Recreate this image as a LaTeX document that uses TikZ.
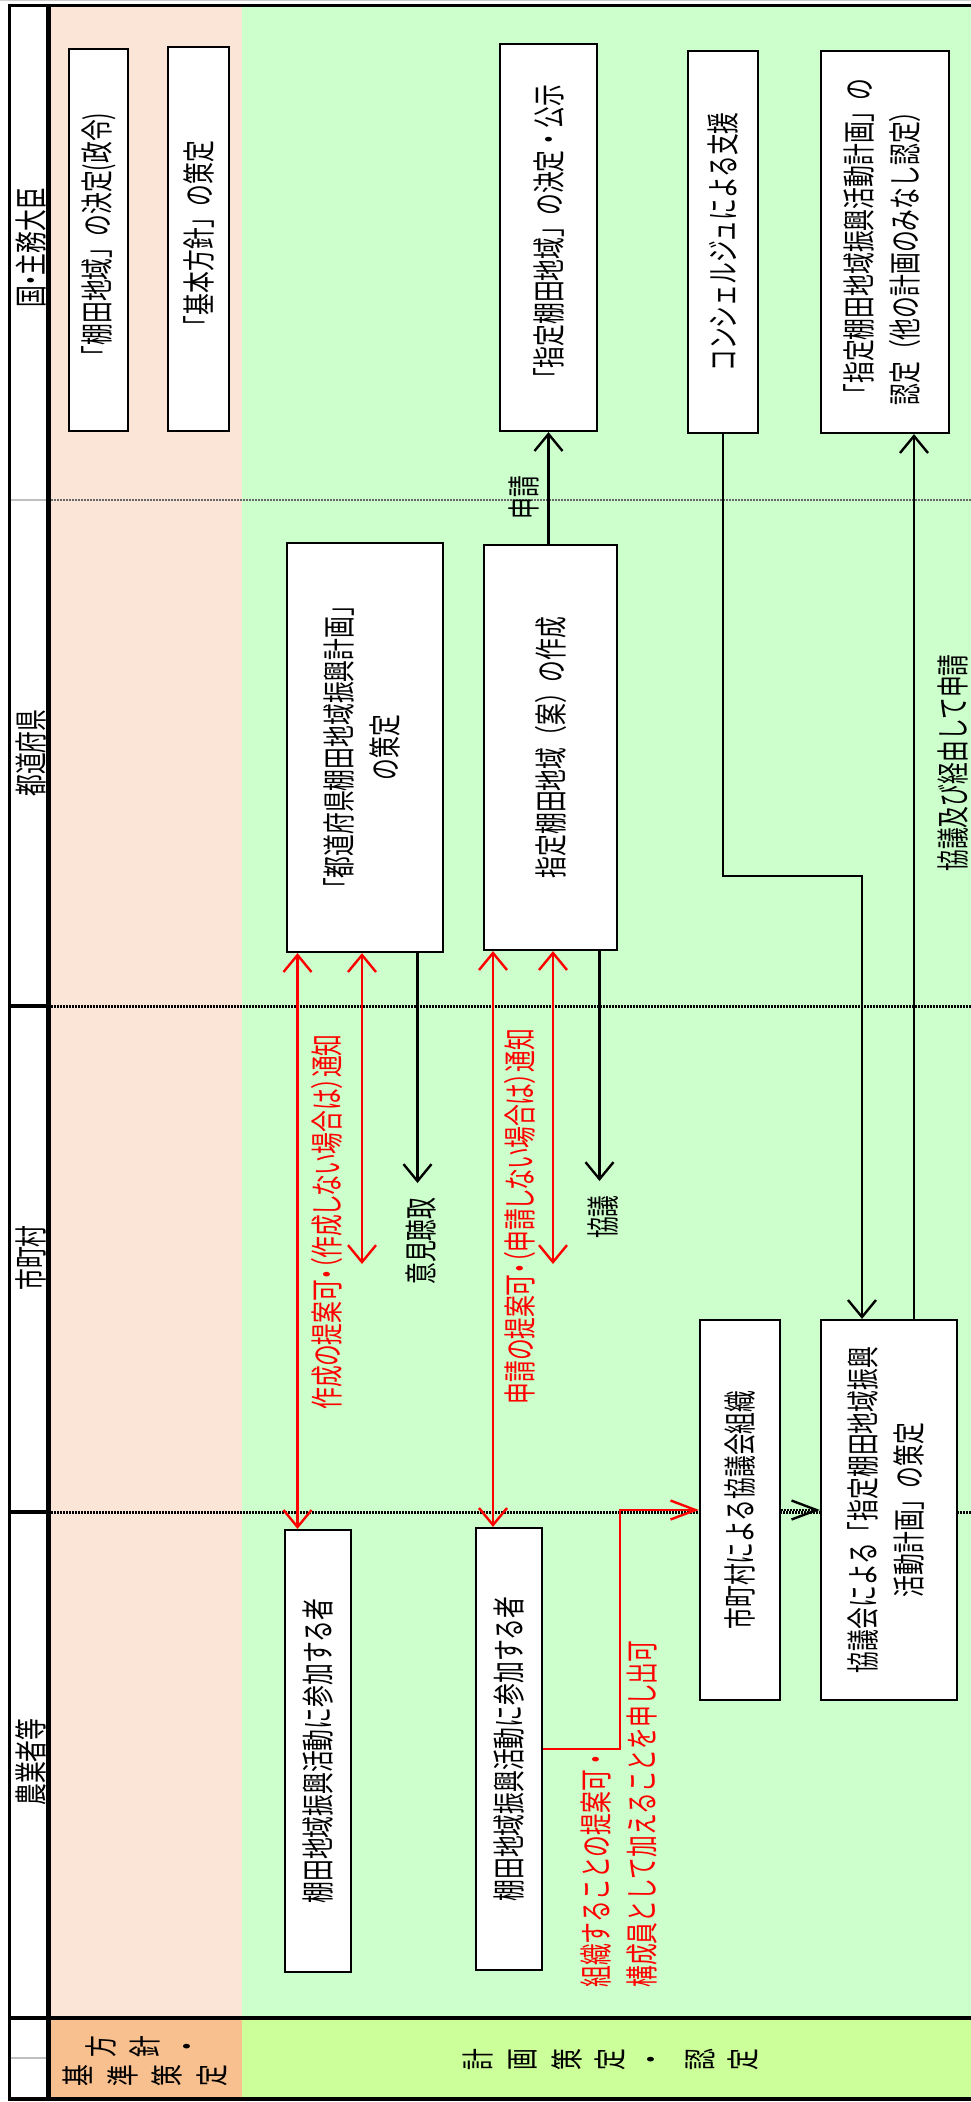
\documentclass[tikz,border=0pt]{standalone}
\usepackage{graphicx}
\usepackage{fontspec}
\setmainfont{Noto Sans CJK JP}[FakeStretch=0.66]
\usetikzlibrary{arrows.meta}
\newcommand{\vt}[1]{\rotatebox{90}{#1}}
\newcommand{\vtc}[1]{\rotatebox{90}{\begin{tabular}{@{}c@{}}#1\end{tabular}}}
\newcommand{\vtl}[1]{\rotatebox{90}{\begin{tabular}{@{}l@{}}#1\end{tabular}}}
\definecolor{peach}{HTML}{FBE5D6}
\definecolor{lgreen}{HTML}{CCFFCC}
\definecolor{orangec}{HTML}{F8BF8F}
\definecolor{ygreen}{HTML}{CCFF99}
\begin{document}
\begin{tikzpicture}[x=1pt,y=-1pt,
  font=\fontsize{33}{46}\selectfont,
  box/.style={draw=black, line width=2.2pt, fill=white, inner sep=0pt},
  lbl/.style={inner sep=0pt},
  pal/.style={font=\fontsize{33}{46}\selectfont\addfontfeature{RawFeature=+palt}},
  conn/.style={line width=2.4pt},
  va/.style={-{Straight Barb[length=17pt,width=28pt]}},
  vaa/.style={{Straight Barb[length=17pt,width=28pt]}-{Straight Barb[length=17pt,width=28pt]}},
  ha/.style={-{Straight Barb[length=25pt,width=19pt]}},
  sep/.style={line width=3pt, dash pattern=on 1.5pt off 1.5pt},
]
\useasboundingbox (0,0) rectangle (971,2102);
\clip (0,0) rectangle (971,2102);
% backgrounds
\fill[white] (0,0) rectangle (971,2102);
\fill[peach] (51,5) rectangle (241.5,2018);
\fill[lgreen] (241.5,5) rectangle (971,2018);
\fill[orangec] (51,2018) rectangle (241.5,2099);
\fill[ygreen] (241.5,2018) rectangle (971,2099);
% separators
\draw[line width=2pt, black!60, dash pattern=on 1.5pt off 1.5pt] (51,500) -- (971,500);
\draw[black!25, line width=2pt] (11,500) -- (46,500);
\draw[sep] (51,1006) -- (971,1006);
\draw[line width=3.5pt] (9,1006) -- (48,1006);
\draw[sep] (51,1512) -- (971,1512);
\draw[line width=3.5pt] (9,1512) -- (48,1512);
\draw[black!25, line width=2pt] (11,2058) -- (46,2058);
\draw[line width=4.5pt] (8,2018) -- (971,2018);
\draw[line width=4pt] (8,2099) -- (971,2099);
\draw[line width=3pt] (8,5.5) -- (971,5.5);
\draw[black!20, line width=1pt] (0,0.5) -- (971,0.5);
\draw[line width=3.5pt] (9.5,4) -- (9.5,2101);
\draw[line width=5pt] (48.5,4) -- (48.5,2101);
% headers
\node[lbl, pal] (h1) at (31,248) {\vt{国・主務大臣}};
\node[lbl] (h2) at (31,753) {\vt{都道府県}};
\node[lbl] (h3) at (31,1258) {\vt{市町村}};
\node[lbl] (h4) at (31,1762) {\vt{農業者等}};
% bottom strip characters
\foreach \c/\x/\y/\n in {方/101/2047/b1, 針/145/2047/b2, ・/191/2047/b3,
  基/78/2076/b4, 準/123/2076/b5, 策/167/2076/b6, 定/212/2076/b7,
  計/478/2060/c1, 画/523/2060/c2, 策/567/2060/c3, 定/610/2060/c4,
  ・/655/2060/c5, 認/700/2060/c6, 定/743/2060/c7}
  {\node[lbl] (\n) at (\x,\y) {\vt{\c}};}
% boxes
\node[box, minimum width=59pt, minimum height=382pt] (A) at (98.5,240) {\vt{「棚田地域」の決定(政令)}};
\node[box, minimum width=61pt, minimum height=384pt] (B) at (198.5,239) {\vt{「基本方針」の策定}};
\node[box, minimum width=97pt, minimum height=387pt] (C) at (548.5,237.5) {\vt{「指定棚田地域」の決定・公示}};
\node[box, minimum width=70pt, minimum height=382pt] (D) at (723,242) {\vt{コンシェルジュによる支援}};
\node[box, minimum width=128pt, minimum height=382pt] (E) at (885,242) {\vtl{「指定棚田地域振興活動計画」の\\認定（他の計画のみなし認定）}};
\node[box, minimum width=156pt, minimum height=409pt] (F) at (365,747.5) {\vtc{「都道府県棚田地域振興計画」\\の策定}};
\node[box, minimum width=133pt, minimum height=405pt] (G) at (550.5,747.5) {\vt{指定棚田地域（案）の作成}};
\node[box, minimum width=66pt, minimum height=442pt] (H) at (318,1751) {\vt{棚田地域振興活動に参加する者}};
\node[box, minimum width=66pt, minimum height=442pt] (I) at (509,1749) {\vt{棚田地域振興活動に参加する者}};
\node[box, minimum width=80pt, minimum height=380pt] (J) at (740,1510) {\vt{市町村による協議会組織}};
\node[box, minimum width=136pt, minimum height=380pt] (K) at (889,1510) {\vtc{協議会による「指定棚田地域振興\\活動計画」の策定}};
% coordinates
\coordinate (xr1) at (297.5,0);
\coordinate (xr2tip) at (362,1264);
\coordinate (xr3) at (493,0);
\coordinate (xr4tip) at (553,1264);
\coordinate (ikentip) at (417.5,1183);
\coordinate (kyogitip) at (599.5,1181);
\coordinate (dk) at (862,876);
\coordinate (xke) at (914,0);
\coordinate (xrc) at (620,0);
% connectors
\draw[conn, red, vaa] (F.south -| xr1) -- (H.north -| xr1);
\draw[conn, red, vaa] (F.south -| xr2tip) -- (xr2tip);
\draw[conn, red, vaa] (G.south -| xr3) -- (I.north -| xr3);
\draw[conn, red, vaa] (G.south -| xr4tip) -- (xr4tip);
\draw[conn, va] (F.south -| ikentip) -- (ikentip);
\draw[conn, va] (G.south -| kyogitip) -- (kyogitip);
\draw[conn, va] (C.south |- G.north) -- (C.south);
\draw[conn, va] (D.south) |- (dk) -- (dk |- K.north);
\draw[conn, va] (K.north -| xke) -- (E.south -| xke);
\draw[conn, red, ha] (I.east) -| (xrc |- J.west) -- (J.west);
\draw[conn, ha, dash pattern=on 1.5pt off 1.5pt] (J.east) -- (K.west);
% labels
\node[lbl] (shinsei) at (523.5,497.5) {\vt{申請}};
\node[lbl] (keiyu) at (953,763) {\vt{協議及び経由して申請}};
\node[lbl, pal, red] (lblA) at (327,1222) {\vt{作成の提案可・（作成しない場合は）通知}};
\node[lbl, pal, red] (lblB) at (520,1216.5) {\vt{申請の提案可・（申請しない場合は）通知}};
\node[lbl] (iken) at (421,1241) {\vt{意見聴取}};
\node[lbl] (kyogi) at (603,1217) {\vt{協議}};
\node[lbl, red] (lblC) at (622,1814) {\vtl{組織することの提案可・\\構成員として加えることを申し出可}};
\end{tikzpicture}
\end{document}
